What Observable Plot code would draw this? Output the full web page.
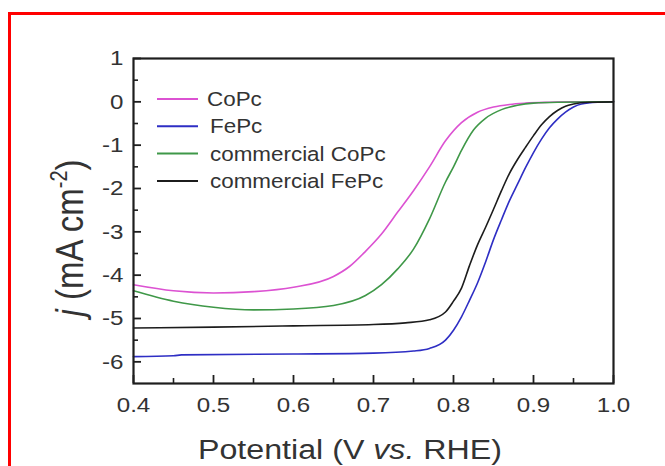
<!DOCTYPE html>
<html>
<head>
<meta charset="utf-8">
<script src="https://cdn.jsdelivr.net/npm/d3@7"></script>
<script src="https://cdn.jsdelivr.net/npm/@observablehq/plot@0.6"></script>
<style>
  html, body { margin: 0; padding: 0; background: #fff; overflow: hidden; }
  #wrap { position: relative; width: 665px; height: 466px; }
  #border { position: absolute; left: 8px; top: 12px; width: 700px; height: 500px;
            border-left: 3px solid #f00; border-top: 3px solid #f00; pointer-events: none; }
</style>
</head>
<body>
<div id="wrap"><div id="border"></div></div>
<script>
// ---- data ----
const seriesNames = ["CoPc", "FePc", "commercial CoPc", "commercial FePc"];
const seriesColors = ["#dc52d2", "#2e2ec4", "#3f9848", "#1c1c1c"];

const potCoPc = [0.40,0.45,0.50,0.55,0.60,0.65,0.67,0.69,0.71,0.73,0.75,0.77,0.79,0.81,0.83,0.85,0.87,0.89,0.92,0.95,1.00];
const jCoPc   = [-4.22,-4.36,-4.41,-4.38,-4.28,-4.03,-3.80,-3.45,-3.05,-2.55,-2.05,-1.50,-0.90,-0.48,-0.24,-0.12,-0.06,-0.03,-0.01,0,0];

const potFePc = [0.40,0.45,0.46,0.60,0.70,0.75,0.77,0.79,0.80,0.81,0.82,0.83,0.84,0.85,0.86,0.87,0.88,0.89,0.90,0.91,0.92,0.93,0.94,0.95,0.96,0.98,1.00];
const jFePc   = [-5.88,-5.86,-5.84,-5.82,-5.80,-5.75,-5.69,-5.50,-5.27,-4.96,-4.58,-4.18,-3.70,-3.18,-2.72,-2.28,-1.90,-1.52,-1.17,-0.86,-0.60,-0.40,-0.24,-0.12,-0.05,-0.01,0];

const potComCoPc = [0.40,0.45,0.50,0.55,0.60,0.65,0.69,0.71,0.73,0.75,0.77,0.79,0.80,0.81,0.825,0.84,0.86,0.88,0.90,0.93,1.00];
const jComCoPc   = [-4.36,-4.60,-4.74,-4.80,-4.78,-4.70,-4.47,-4.22,-3.86,-3.40,-2.70,-1.85,-1.50,-1.12,-0.65,-0.38,-0.18,-0.08,-0.03,-0.01,0];

const potComFePc = [0.40,0.50,0.60,0.70,0.74,0.77,0.79,0.80,0.81,0.82,0.83,0.84,0.85,0.86,0.87,0.88,0.89,0.90,0.91,0.92,0.93,0.94,0.95,0.97,1.00];
const jComFePc   = [-5.22,-5.20,-5.17,-5.14,-5.10,-5.03,-4.85,-4.60,-4.30,-3.78,-3.30,-2.90,-2.48,-2.05,-1.65,-1.33,-1.05,-0.78,-0.53,-0.34,-0.20,-0.10,-0.05,-0.01,0];

const xTicks = [0.4,0.5,0.6,0.7,0.8,0.9,1.0];
const xMinor = [0.45,0.55,0.65,0.75,0.85,0.95];
const yTicks = [1,0,-1,-2,-3,-4,-5,-6];
const yMinor = [0.5,-0.5,-1.5,-2.5,-3.5,-4.5,-5.5];

// ---- build table ----
const pots = [potCoPc, potFePc, potComCoPc, potComFePc];
const js = [jCoPc, jFePc, jComCoPc, jComFePc];
const rows = [];
seriesNames.forEach((s, k) => pots[k].forEach((p, i) => rows.push({series: s, x: p, y: js[k][i]})));

const W = 665, H = 466, ML = 133, MR = 52, MT = 58, MB = 83;
const frameW = W - ML - MR, frameH = H - MT - MB;
const font = "'Liberation Sans', Arial, sans-serif";
const textColor = "#333";
const tickColor = "#1e1e1e";
const hyphen = d => (d < 0 ? "-" + Math.abs(d) : String(d));

const chart = Plot.plot({
  width: W, height: H,
  marginLeft: ML, marginRight: MR, marginTop: MT, marginBottom: MB,
  style: {fontFamily: font, background: "transparent", color: textColor},
  x: {domain: [0.4, 1.0]},
  y: {domain: [-6.5, 1]},
  color: {domain: seriesNames, range: seriesColors},
  marks: [
    Plot.line(rows, {x: "x", y: "y", z: "series", stroke: "series", strokeWidth: 1.6, curve: "monotone-x"}),
    // inward ticks as short rules at the frame edges
    Plot.ruleX(xTicks, {x: d => d, insetTop: frameH - 8, stroke: tickColor, strokeWidth: 1.8}),
    Plot.ruleX(xMinor, {x: d => d, insetTop: frameH - 5, stroke: tickColor, strokeWidth: 1.6}),
    Plot.ruleY(yTicks, {y: d => d, insetRight: frameW - 8, stroke: tickColor, strokeWidth: 1.8}),
    Plot.ruleY(yMinor, {y: d => d, insetRight: frameW - 5, stroke: tickColor, strokeWidth: 1.6}),
    // tick labels
    Plot.axisX({ticks: xTicks, tickSize: 0, tickPadding: 14, tickFormat: d3.format(".1f"), label: null, fontSize: 21, fill: textColor}),
    Plot.axisY({ticks: yTicks, tickSize: 0, tickPadding: 10, tickFormat: hyphen, label: null, fontSize: 21, fill: textColor}),
    Plot.frame({stroke: tickColor, strokeWidth: 2.2})
  ]
});

const svg = d3.select(chart);
// horizontally stretch tick labels, as in the reference
svg.selectAll("g[aria-label$='tick label'] text").each(function () {
  const t = this.getAttribute("transform") || "";
  this.setAttribute("transform", t + " scale(1.15,1)");
});

// x axis title
const xt = svg.append("text")
  .attr("transform", "translate(350,459) scale(1.15,1)")
  .attr("text-anchor", "middle").attr("font-size", 28).attr("fill", textColor)
  .attr("font-family", font);
xt.append("tspan").text("Potential (V ");
xt.append("tspan").attr("font-style", "italic").text("vs.");
xt.append("tspan").text(" RHE)");

// y axis title
const yt = svg.append("text")
  .attr("transform", "translate(83,238) rotate(-90) scale(1,1.15)")
  .attr("text-anchor", "middle").attr("font-size", 33).attr("fill", textColor)
  .attr("font-family", font);
yt.append("tspan").attr("font-style", "italic").text("j");
yt.append("tspan").text(" (mA cm");
yt.append("tspan").attr("font-size", 20).attr("dy", -14).text("-2");
yt.append("tspan").attr("dy", 14).text(")");

// legend
const leg = svg.append("g").attr("text-anchor", "start");
seriesNames.forEach((s, i) => {
  const y = 99 + i * 27.3;
  leg.append("line").attr("x1", 157).attr("x2", 198).attr("y1", y).attr("y2", y)
    .attr("stroke", seriesColors[i]).attr("stroke-width", 2);
  leg.append("text").attr("transform", `translate(${i === 0 ? 207 : 210},${y + 7}) scale(1.15,1)`)
    .attr("text-anchor", "start")
    .attr("font-size", 19.5).attr("fill", textColor).attr("font-family", font).text(s);
});

document.getElementById("wrap").prepend(chart);
chart.style.position = "absolute";
chart.style.left = "0px";
chart.style.top = "0px";
</script>
</body>
</html>
